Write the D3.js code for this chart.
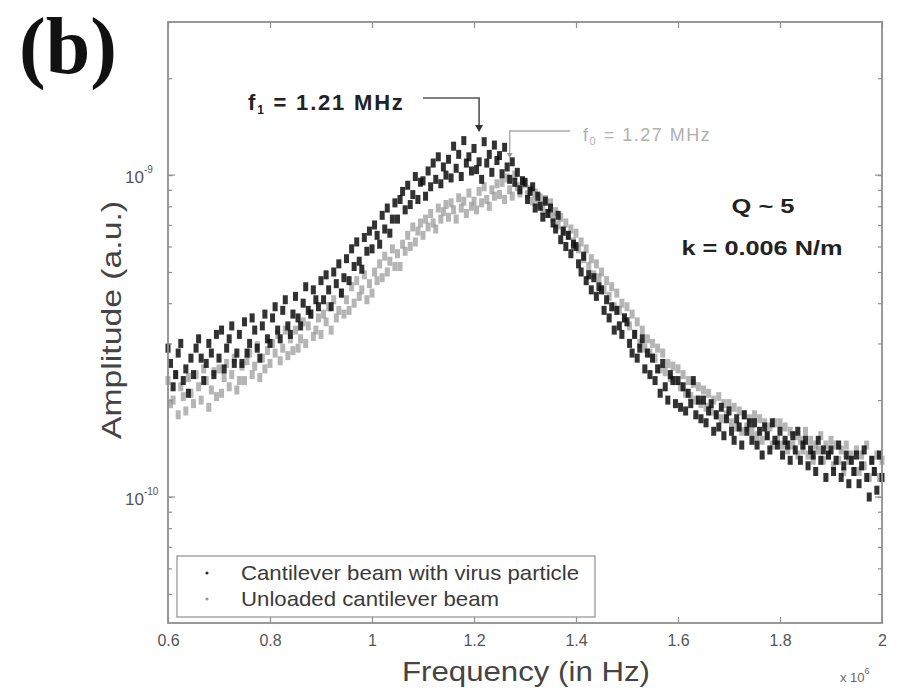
<!DOCTYPE html>
<html><head><meta charset="utf-8">
<script src="https://cdn.jsdelivr.net/npm/d3@7"></script>
<style>body{margin:0;background:#fff}svg{display:block}</style>
</head><body>
<svg id="c" width="902" height="694"></svg>
<script>
// Frequency sampling (units of 10^6 Hz)
const freqStart = 0.6;
const freqStep = 0.005;
// Amplitudes in units of 1e-10 (a.u.)
const loaded = [
2.9,2.6,2.2,2.4,2.8,3.0,2.3,2.5,2.1,2.7,
2.4,2.9,3.1,2.7,2.3,2.6,3.0,2.8,2.4,3.2,
2.7,3.3,2.5,2.9,3.1,3.4,2.6,2.8,3.2,2.6,
3.5,2.8,3.0,3.6,3.3,2.9,2.7,3.4,3.7,3.1,
3.0,3.6,3.9,3.3,3.1,3.8,4.1,3.4,3.2,3.7,
4.2,3.6,3.4,4.0,4.5,3.8,3.7,4.4,4.1,3.9,
4.7,4.1,4.9,4.4,3.9,5.0,4.6,5.3,4.3,4.8,
5.5,4.7,5.9,5.2,6.2,5.4,5.1,6.4,5.8,6.7,
5.9,7.0,6.5,6.1,7.5,6.8,7.9,6.6,7.3,8.2,
7.3,8.4,8.9,7.8,9.3,8.1,8.7,9.9,8.4,9.5,
9.6,8.6,10.3,9.2,10.9,9.7,11.4,9.4,10.6,10.0,
11.2,9.8,12.3,10.5,11.6,9.9,12.8,10.9,11.4,10.3,
12.1,10.4,11.0,9.7,12.7,10.9,11.6,10.2,12.4,11.1,
11.5,10.1,12.2,10.6,9.7,11.0,9.5,10.2,9.0,9.6,
9.5,8.4,8.9,9.2,7.9,8.6,8.0,7.4,8.3,7.6,
7.9,7.1,6.8,7.5,6.3,6.7,6.0,6.5,5.7,6.1,
6.0,5.3,5.0,5.6,4.7,4.9,4.4,4.8,4.2,4.5,
4.4,3.8,4.1,3.6,3.9,3.3,3.8,3.4,3.2,3.6,
3.5,3.0,2.8,3.2,2.7,2.9,3.1,2.5,2.8,2.4,
2.7,2.3,2.5,2.1,2.6,2.2,2.0,2.4,2.3,1.95,
2.3,1.9,2.2,1.85,2.1,1.95,2.3,1.8,2.0,1.75,
2.0,1.7,1.85,1.95,1.6,1.8,1.65,1.9,1.55,1.75,
1.85,1.6,1.5,1.75,1.65,1.45,1.8,1.6,1.7,1.5,
1.7,1.45,1.6,1.35,1.65,1.55,1.4,1.7,1.5,1.45,
1.6,1.35,1.5,1.45,1.3,1.55,1.4,1.6,1.3,1.45,
1.5,1.25,1.4,1.35,1.2,1.5,1.3,1.4,1.15,1.35,
1.4,1.2,1.3,1.45,1.15,1.25,1.35,1.1,1.3,1.2,
1.35,1.1,1.25,1.4,1.15,1.0,1.3,1.2,1.05,1.35,
1.15];
const unloaded = [
2.3,1.95,2.0,2.4,1.8,2.2,2.05,1.85,2.35,2.1,
1.95,2.4,2.2,2.0,2.5,2.3,1.9,2.15,2.45,2.05,
2.5,2.1,2.35,2.6,2.2,2.4,2.7,2.15,2.3,2.55,
2.3,2.65,2.8,2.4,2.55,2.95,2.35,2.7,2.5,2.85,
2.6,3.0,2.8,3.2,2.65,2.9,3.3,2.75,3.1,2.85,
3.3,2.9,3.1,3.5,3.0,3.4,3.7,3.15,3.3,3.6,
3.2,3.7,3.5,3.9,3.3,4.1,3.6,3.8,4.3,3.7,
4.1,3.8,4.5,4.0,4.7,4.2,4.4,4.9,4.1,4.6,
4.3,5.0,4.7,5.3,4.8,5.6,5.0,5.4,5.9,5.2,
5.7,5.2,6.1,5.8,6.5,6.0,6.9,6.2,6.7,7.1,
6.5,7.3,6.9,7.6,7.1,6.8,7.9,7.3,7.7,8.1,
7.4,8.2,7.8,7.3,8.5,7.9,8.3,7.6,8.8,8.0,
8.3,7.8,8.9,8.2,9.2,8.4,8.0,9.0,8.6,9.4,
8.7,9.5,8.4,9.8,9.0,8.6,10.0,9.2,8.8,9.6,
9.4,8.7,9.0,8.3,8.8,8.1,8.5,7.8,8.4,7.6,
8.2,7.4,7.7,7.0,7.4,6.7,7.1,6.5,6.8,6.2,
6.6,5.9,6.2,5.5,5.9,5.2,5.5,4.9,5.3,4.8,
5.0,4.4,4.7,4.2,4.5,3.9,4.3,3.8,4.0,3.6,
3.9,3.4,3.7,3.2,3.5,3.0,3.3,2.9,3.1,2.8,
3.0,2.7,2.9,2.5,2.8,2.45,2.6,2.35,2.55,2.3,
2.5,2.2,2.4,2.1,2.3,2.05,2.25,2.0,2.2,1.95,
2.15,1.9,2.1,1.85,2.0,1.8,2.05,1.75,1.95,1.8,
1.95,1.7,1.9,1.65,1.85,1.6,1.8,1.65,1.75,1.6,
1.8,1.55,1.75,1.5,1.7,1.55,1.65,1.45,1.7,1.5,
1.7,1.45,1.65,1.4,1.6,1.45,1.55,1.35,1.5,1.4,
1.6,1.35,1.5,1.3,1.45,1.4,1.55,1.3,1.45,1.35,
1.5,1.25,1.45,1.3,1.4,1.2,1.45,1.3,1.35,1.2,
1.4,1.2,1.35,1.25,1.45,1.15,1.3,1.2,1.35,1.15,
1.3];
const seriesNames = ["Cantilever beam with virus particle", "Unloaded cantilever beam"];
const xTickValues = [0.6, 0.8, 1.0, 1.2, 1.4, 1.6, 1.8, 2.0];
const xTickLabels = ["0.6", "0.8", "1", "1.2", "1.4", "1.6", "1.8", "2"];
const yTickValues = [1e-9, 1e-10];
const yTickExponents = ["-9", "-10"];
const peakLoaded = 1.21;   // MHz
const peakUnloaded = 1.27; // MHz

const svg = d3.select("#c");
const L = 168, R = 882, T = 22, B = 623;
const x = d3.scaleLinear().domain([0.6, 2.0]).range([L, R]);
const y = d3.scaleLog().domain([4.06e-11, 2.99e-9]).range([B, T]);
const frameCol = "#8f8f8f";
const unit = 1e-10;

const defs = svg.append("defs");
defs.append("filter").attr("id", "soft").append("feGaussianBlur").attr("stdDeviation", 0.7);

// Data markers
function drawSeries(vals, col, op) {
  svg.append("g").attr("filter", "url(#soft)").selectAll("rect").data(vals).join("rect")
    .attr("x", (d, i) => x(freqStart + i * freqStep) - 2.5)
    .attr("y", d => y(d * unit) - 4.5)
    .attr("width", 5).attr("height", 9)
    .attr("fill", col).attr("opacity", op);
}
drawSeries(unloaded, "#999", 0.72);
drawSeries(loaded, "#0c0c0c", 0.85);

// Axes (inward ticks, box)
const gx = svg.append("g").attr("transform", `translate(0,${B})`)
  .call(d3.axisBottom(x).tickValues(xTickValues).tickSize(-6).tickPadding(12)
    .tickFormat((d, i) => xTickLabels[i]));
const gxt = svg.append("g").attr("transform", `translate(0,${T})`)
  .call(d3.axisTop(x).tickValues(xTickValues).tickSize(-6).tickFormat(""));
const yMinor = y.ticks();
const gy = svg.append("g").attr("transform", `translate(${L},0)`)
  .call(d3.axisLeft(y).tickValues(yMinor).tickSize(-4).tickFormat(""));
const gyr = svg.append("g").attr("transform", `translate(${R},0)`)
  .call(d3.axisRight(y).tickValues(yMinor).tickSize(-4).tickFormat(""));
[gx, gxt, gy, gyr].forEach(g => {
  g.select(".domain").remove();
  g.selectAll("line").attr("stroke", frameCol).attr("stroke-width", 1.2);
});
gx.selectAll("text").attr("font-family", "Liberation Sans, Arial, sans-serif")
  .attr("font-size", 16).attr("fill", "#555");
// Major y ticks longer
[[L, 7], [R, -7]].forEach(([px, len]) => {
  svg.append("g").selectAll("line").data(yTickValues).join("line")
    .attr("x1", px).attr("x2", px + len)
    .attr("y1", d => y(d)).attr("y2", d => y(d))
    .attr("stroke", frameCol).attr("stroke-width", 1.2);
});
// Frame
svg.append("rect").attr("x", L).attr("y", T).attr("width", R - L).attr("height", B - T)
  .attr("fill", "none").attr("stroke", frameCol).attr("stroke-width", 1.8);

// Y tick labels
const yl = svg.append("g").selectAll("text").data(yTickValues).join("text")
  .attr("x", 125).attr("y", d => y(d) + 8)
  .attr("font-family", "Liberation Sans, Arial, sans-serif")
  .attr("font-size", 17).attr("fill", "#555");
yl.append("tspan").text("10");
yl.append("tspan").attr("dy", -10).attr("font-size", 10).text((d, i) => yTickExponents[i]);

// x10^6 multiplier
const mult = svg.append("text").attr("x", 840).attr("y", 682)
  .attr("font-family", "Liberation Sans, Arial, sans-serif").attr("font-size", 13).attr("fill", "#666");
mult.append("tspan").text("x 10");
mult.append("tspan").attr("dy", -8).attr("font-size", 9).text("6");

// Axis titles
svg.append("text").attr("x", 526).attr("y", 681).attr("text-anchor", "middle")
  .attr("font-family", "Liberation Sans, Arial, sans-serif").attr("font-size", 27).attr("fill", "#444")
  .attr("textLength", 248).attr("lengthAdjust", "spacingAndGlyphs")
  .text("Frequency (in Hz)");
svg.append("text").attr("transform", "translate(121,320) rotate(-90)").attr("text-anchor", "middle")
  .attr("font-family", "Liberation Sans, Arial, sans-serif").attr("font-size", 28).attr("fill", "#444")
  .attr("textLength", 238).attr("lengthAdjust", "spacingAndGlyphs")
  .text("Amplitude (a.u.)");

// Panel label
svg.append("text").attr("x", 19).attr("y", 73)
  .attr("font-family", "Liberation Serif, Times New Roman, serif").attr("font-weight", "bold")
  .attr("font-size", 80).attr("fill", "#111").text("(b)");

// Peak annotations
const xa = x(peakLoaded);
svg.append("path").attr("d", `M423,98 H${xa} V126`).attr("fill", "none")
  .attr("stroke", "#555").attr("stroke-width", 1.6);
svg.append("path").attr("d", `M${xa - 4},125 L${xa + 4},125 L${xa},132 Z`).attr("fill", "#333");
const f1 = svg.append("text").attr("x", 248).attr("y", 110)
  .attr("font-family", "Liberation Sans, Arial, sans-serif").attr("font-weight", "bold")
  .attr("font-size", 22).attr("letter-spacing", 1.8).attr("fill", "#222");
f1.append("tspan").text("f");
f1.append("tspan").attr("font-size", 12).attr("dy", 4).text("1");
f1.append("tspan").attr("dy", -4).text(" = 1.21 MHz");

const xb = x(peakUnloaded);
svg.append("path").attr("d", `M570,131 H${xb} V154`).attr("fill", "none")
  .attr("stroke", "#aaa").attr("stroke-width", 1.4);
svg.append("path").attr("d", `M${xb - 3},153 L${xb + 3},153 L${xb},158 Z`).attr("fill", "#999");
const f0 = svg.append("text").attr("x", 583).attr("y", 141)
  .attr("font-family", "Liberation Sans, Arial, sans-serif")
  .attr("font-size", 18).attr("letter-spacing", 1.5).attr("fill", "#b0b0b0");
f0.append("tspan").text("f");
f0.append("tspan").attr("font-size", 11).attr("dy", 4).text("0");
f0.append("tspan").attr("dy", -4).text(" = 1.27 MHz");

// Parameters
svg.append("text").attr("x", 763).attr("y", 213).attr("text-anchor", "middle")
  .attr("font-family", "Liberation Sans, Arial, sans-serif").attr("font-weight", "bold")
  .attr("font-size", 21).attr("fill", "#222")
  .attr("textLength", 63).attr("lengthAdjust", "spacingAndGlyphs").text("Q ~ 5");
svg.append("text").attr("x", 762).attr("y", 255).attr("text-anchor", "middle")
  .attr("font-family", "Liberation Sans, Arial, sans-serif").attr("font-weight", "bold")
  .attr("font-size", 21).attr("fill", "#222")
  .attr("textLength", 161).attr("lengthAdjust", "spacingAndGlyphs").text("k = 0.006 N/m");

// Legend
svg.append("rect").attr("x", 177).attr("y", 556).attr("width", 418).attr("height", 61)
  .attr("fill", "#fff").attr("stroke", "#999").attr("stroke-width", 1.3);
const legCols = ["#333", "#999"];
const legLens = [338, 258];
seriesNames.forEach((nm, i) => {
  const yy = 580 + i * 26;
  svg.append("circle").attr("cx", 207).attr("cy", yy - 7).attr("r", 1.6).attr("fill", legCols[i]);
  svg.append("text").attr("x", 241).attr("y", yy)
    .attr("font-family", "Liberation Sans, Arial, sans-serif").attr("font-size", 21).attr("fill", "#3a3a3a")
    .attr("textLength", legLens[i]).attr("lengthAdjust", "spacingAndGlyphs").text(nm);
});
</script>
</body></html>
